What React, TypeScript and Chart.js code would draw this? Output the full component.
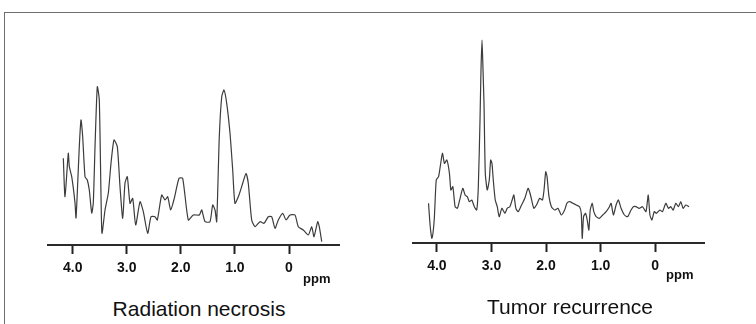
import React, { useEffect, useRef } from "react";
import { Chart, registerables } from "chart.js";

Chart.register(...registerables);

// Chemical shift axis ticks (ppm)
const tickValues = [4, 3, 2, 1, 0];
const tickLabels = ["4.0", "3.0", "2.0", "1.0", "0"];

// Radiation necrosis spectrum
const necrosisPpm = [
  4.173, 4.142, 4.081, 4.062, 4.018, 3.957, 3.939, 3.915, 3.878, 3.846,
  3.815, 3.772, 3.73, 3.693, 3.648, 3.619, 3.587, 3.545, 3.508, 3.476,
  3.458, 3.402, 3.341, 3.291, 3.236, 3.175, 3.125, 3.075, 3.033, 2.99,
  2.94, 2.89, 2.835, 2.755, 2.694, 2.613, 2.552, 2.478, 2.435, 2.354,
  2.293, 2.243, 2.188, 2.121, 2.034, 1.966, 1.862, 1.77, 1.659, 1.614,
  1.553, 1.461, 1.411, 1.368, 1.337, 1.289, 1.244, 1.202, 1.152, 1.091,
  1.041, 0.999, 0.925, 0.856, 0.795, 0.753, 0.69, 0.629, 0.536, 0.462,
  0.383, 0.32, 0.259, 0.198, 0.116, 0.055, -0.018, -0.111, -0.172, -0.264,
  -0.357, -0.42, -0.462, -0.531, -0.56, -0.605,
];
const necrosisIntensity = [
  86.7, 48.3, 91.7, 78.3, 68.3, 42, 27, 52, 98.3, 125,
  108.3, 68.3, 65, 55, 32, 42, 98.3, 158.3, 145, 48.3,
  11.7, 35, 52, 82, 105, 98.3, 58.3, 26.7, 61.7, 68.3,
  41.7, 46.7, 20, 43.3, 33.3, 11.7, 28.3, 28.3, 25, 50,
  45, 48.3, 35, 46.7, 66.7, 66.7, 25, 30, 30, 35,
  23.3, 23.3, 40, 35, 23.3, 108.3, 148.3, 155, 141.7, 111.7,
  75, 41.7, 50, 61.7, 71.7, 61.7, 25, 18.3, 23.3, 21.7,
  28.3, 28.3, 16.7, 25, 31.7, 25, 30, 30, 18.3, 15,
  10, 18.3, 8.3, 23.3, 18.3, 3.3,
];

// Tumor recurrence spectrum
const recurrencePpm = [
  4.153, 4.122, 4.091, 4.049, 4.012, 3.97, 3.939, 3.898, 3.861, 3.817,
  3.77, 3.744, 3.708, 3.666, 3.624, 3.575, 3.525, 3.483, 3.442, 3.405,
  3.361, 3.314, 3.27, 3.241, 3.21, 3.192, 3.173, 3.155, 3.137, 3.113,
  3.077, 3.04, 3.015, 2.991, 2.967, 2.931, 2.894, 2.858, 2.809, 2.754,
  2.712, 2.663, 2.621, 2.59, 2.553, 2.511, 2.449, 2.389, 2.329, 2.285,
  2.225, 2.176, 2.116, 2.066, 2.037, 2.006, 1.982, 1.946, 1.902, 1.842,
  1.782, 1.72, 1.66, 1.618, 1.568, 1.508, 1.446, 1.386, 1.355, 1.337,
  1.313, 1.277, 1.246, 1.216, 1.191, 1.154, 1.125, 1.082, 1.021, 0.961,
  0.899, 0.839, 0.808, 0.766, 0.717, 0.675, 0.626, 0.565, 0.505, 0.443,
  0.401, 0.352, 0.292, 0.232, 0.17, 0.128, 0.097, 0.06, 0.018, -0.024,
  -0.086, -0.133, -0.195, -0.243, -0.286, -0.328, -0.378, -0.425, -0.469, -0.511,
  -0.56, -0.62,
];
const recurrenceIntensity = [
  39.7, 16.3, 4.7, 23, 63, 66.3, 76.3, 89.7, 79.7, 83,
  69.7, 53, 56.3, 36.3, 34.7, 44.7, 54.7, 48, 46.3, 41.3,
  43, 36.3, 33, 56.3, 123, 173, 203, 173, 139.7, 69.7,
  53, 63, 83, 79.7, 63, 43, 36.3, 26.3, 34.7, 29.7,
  34.7, 36.3, 43, 48, 34.7, 31.3, 38, 44.7, 54.7, 48,
  34.7, 38, 44.7, 43, 53, 71.3, 66.3, 46.3, 36.3, 33,
  34.7, 28, 33, 39.7, 41.3, 39.7, 38, 36.3, 29.7, 4.7,
  26.3, 29.7, 23, 13, 33, 39.7, 31.3, 26.3, 24.7, 28,
  31.3, 36.3, 39.7, 28, 38, 43, 34.7, 28, 26.3, 33,
  36.3, 36.3, 34.7, 36.3, 31.3, 48, 28, 23, 31.3, 29.7,
  33, 31.3, 39.7, 34.7, 36.3, 33, 39.7, 36.3, 41.3, 34.7,
  38, 36.3,
];

const FONT = "'Liberation Sans', Arial, Helvetica, sans-serif";

function Spectrum(props: {
  ppm: number[];
  intensity: number[];
  xMin: number;
  xMax: number;
  left: number;
  top: number;
  width: number;
}) {
  const ref = useRef<HTMLCanvasElement>(null);
  useEffect(() => {
    if (!ref.current) return;
    const chart = new Chart(ref.current, {
      type: "line",
      data: {
        datasets: [
          {
            data: props.ppm.map((p, i) => ({ x: p, y: props.intensity[i] })),
            borderColor: "#3c3c3c",
            borderWidth: 1.2,
            pointRadius: 0,
            tension: 0.2,
            fill: false,
          },
        ],
      },
      options: {
        animation: false,
        responsive: true,
        maintainAspectRatio: false,
        layout: { padding: 0 },
        plugins: { legend: { display: false }, tooltip: { enabled: false }, title: { display: false } },
        scales: {
          x: {
            type: "linear",
            reverse: true,
            min: props.xMin,
            max: props.xMax,
            afterBuildTicks: (scale: any) => {
              scale.ticks = tickValues.map((v) => ({ value: v }));
            },
            afterFit: (scale: any) => {
              scale.height = 40;
            },
            ticks: {
              autoSkip: false,
              maxRotation: 0,
              padding: 6,
              color: "#111",
              font: { family: FONT, size: 14, weight: "bold" },
              callback: (v: any) => {
                const idx = tickValues.indexOf(Number(v));
                return idx >= 0 ? tickLabels[idx] : "";
              },
            },
            grid: {
              display: true,
              drawOnChartArea: false,
              drawTicks: true,
              tickLength: 9,
              tickWidth: 2,
              tickColor: "#222",
            },
            border: { display: true, color: "#2a2a2a", width: 2 },
          },
          y: { display: false, min: 0, max: 225 },
        },
      },
    } as any);
    return () => chart.destroy();
  }, []);
  return (
    <div
      style={{
        position: "absolute",
        left: props.left,
        top: props.top,
        width: props.width,
        height: 265,
      }}
    >
      <canvas ref={ref} />
    </div>
  );
}

export default function App() {
  const text = (s: string, left: number, top: number, size: number, bold: boolean, center: boolean) => (
    <div
      style={{
        position: "absolute",
        left,
        top,
        fontFamily: FONT,
        fontSize: size,
        fontWeight: bold ? "bold" : "normal",
        lineHeight: 1,
        color: "#111",
        whiteSpace: "nowrap",
        transform: center ? "translateX(-50%)" : undefined,
      }}
    >
      {s}
    </div>
  );
  return (
    <div
      style={{
        position: "absolute",
        left: 0,
        top: 0,
        width: 756,
        height: 324,
        background: "#fff",
        overflow: "hidden",
      }}
    >
      <div
        style={{
          position: "absolute",
          left: 4,
          top: 12,
          width: 760,
          height: 330,
          borderTop: "1.5px solid #6f6f6f",
          borderLeft: "1.5px solid #6f6f6f",
        }}
      />
      <Spectrum ppm={necrosisPpm} intensity={necrosisIntensity} xMin={-0.943} xMax={4.475} left={47} top={20} width={293} />
      <Spectrum ppm={recurrencePpm} intensity={recurrenceIntensity} xMin={-0.912} xMax={4.456} left={412} top={18} width={293} />
      {text("ppm", 303, 271.5, 13, true, false)}
      {text("ppm", 666, 268, 13, true, false)}
      {text("Radiation necrosis", 199, 298, 21, false, true)}
      {text("Tumor recurrence", 570, 296, 21, false, true)}
    </div>
  );
}
